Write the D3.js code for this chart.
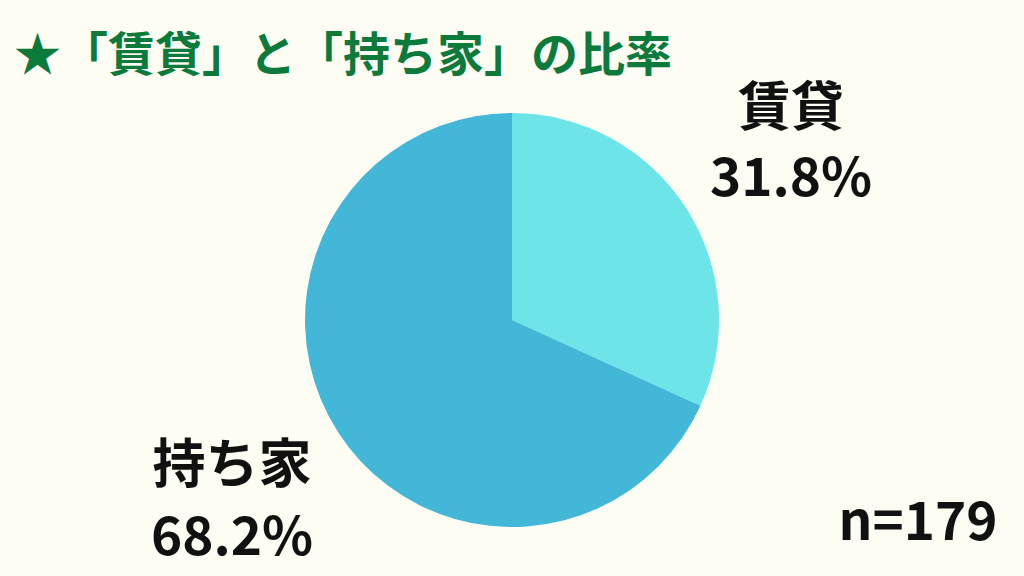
<!DOCTYPE html>
<html>
<head>
<meta charset="utf-8">
<script src="https://cdn.jsdelivr.net/npm/d3@7"></script>
<style>
  body { margin: 0; background: #fdfdf4; }
  svg { display: block; }
  text { font-family: "Noto Sans CJK JP", "Noto Sans", sans-serif; font-weight: 700; }
</style>
</head>
<body>
<div id="chart"></div>
<script>
// データ
var labels = ["賃貸", "持ち家"];
var values = [31.8, 68.2];
var colors = ["#6ce4e8", "#43b7d7"];
var sampleSize = 179;

var width = 1024, height = 576;
var cx = 512, cy = 320, r = 207;

var svg = d3.select("#chart").append("svg")
  .attr("width", width)
  .attr("height", height);

svg.append("rect").attr("width", width).attr("height", height).attr("fill", "#fdfdf4");

// タイトル
svg.append("text")
  .attr("x", 14)
  .attr("y", 71)
  .attr("fill", "#0b7a3b")
  .style("font-size", "47px")
  .text("★「賃貸」と「持ち家」の比率");

var pie = d3.pie().sort(null).value(function(d) { return d; });
var arc = d3.arc().innerRadius(0).outerRadius(r);

var g = svg.append("g").attr("transform", "translate(" + cx + "," + cy + ")");
g.selectAll("path")
  .data(pie(values))
  .enter()
  .append("path")
  .attr("d", arc)
  .attr("fill", function(d, i) { return colors[i]; });

// ラベル位置
var labelPos = [[791, 126, 196], [232, 483, 555]];
labels.forEach(function(name, i) {
  svg.append("text")
    .attr("x", labelPos[i][0])
    .attr("y", labelPos[i][1])
    .attr("text-anchor", "middle")
    .attr("fill", "#111")
    .style("font-size", "53px")
    .text(name);
  svg.append("text")
    .attr("x", labelPos[i][0])
    .attr("y", labelPos[i][2])
    .attr("text-anchor", "middle")
    .attr("fill", "#111")
    .style("font-size", "53px")
    .text(d3.format(".1f")(values[i]) + "%");
});

svg.append("text")
  .attr("x", 918)
  .attr("y", 540)
  .attr("text-anchor", "middle")
  .attr("fill", "#111")
  .style("font-size", "53px")
  .text("n=" + sampleSize);
</script>
</body>
</html>
